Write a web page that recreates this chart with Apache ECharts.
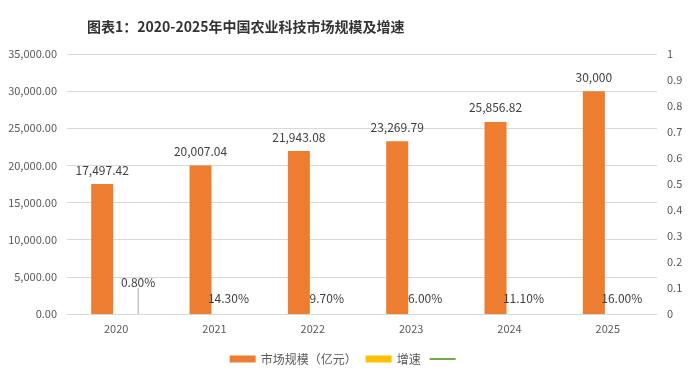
<!DOCTYPE html>
<html>
<head>
<meta charset="utf-8">
<script src="https://cdn.jsdelivr.net/npm/echarts@6/dist/echarts.min.js"></script>
<style>html,body{margin:0;padding:0;background:#fff;}#c{width:693px;height:380px;}</style>
</head>
<body>
<div id="c"></div>
<script>
var categories = ['2020', '2021', '2022', '2023', '2024', '2025'];
var marketSize = [17497.42, 20007.04, 21943.08, 23269.79, 25856.82, 30000];
var growthRate = [0.008, 0.143, 0.097, 0.060, 0.111, 0.160];
var leftTicks = [0, 35000, 5000];
var rightTicks = [0, 1, 0.1];

var FONT = '"Noto Sans CJK SC", "Noto Sans", sans-serif';

function fmtNum(v) {
  if (Number.isInteger(v)) return v.toLocaleString('en-US');
  return v.toLocaleString('en-US', {minimumFractionDigits: 2, maximumFractionDigits: 2});
}

var growthData = growthRate.map(function (v, i) {
  return i === 0
    ? {value: v, labelLine: {show: true, lineStyle: {color: '#A6A6A6', width: 1}}}
    : {value: v, labelLine: {show: false}};
});

var chart = echarts.init(document.getElementById('c'));
chart.setOption({
  backgroundColor: '#ffffff',
  animation: false,
  textStyle: {fontFamily: FONT},
  title: {
    text: '图表1：2020-2025年中国农业科技市场规模及增速',
    left: 82, top: 15,
    textStyle: {fontSize: 14, fontWeight: 'bold', color: '#333333', fontFamily: FONT}
  },
  legend: {
    left: 'center', top: 348,
    itemWidth: 26, itemHeight: 7, itemGap: 9,
    textStyle: {fontSize: 12, color: '#595959', fontFamily: FONT},
    data: [
      {name: '市场规模（亿元）', icon: 'rect'},
      {name: '增速', icon: 'rect'},
      {name: ' ', icon: 'path://M0,0 L26,0 L26,2 L0,2 Z'}
    ]
  },
  grid: {left: 67, right: 36, top: 54, bottom: 66, containLabel: false},
  xAxis: {
    type: 'category',
    data: categories,
    axisTick: {show: false},
    axisLine: {lineStyle: {color: '#D9D9D9'}},
    axisLabel: {color: '#595959', fontSize: 11, margin: 9}
  },
  yAxis: [
    {
      type: 'value', min: leftTicks[0], max: leftTicks[1], interval: leftTicks[2],
      axisLine: {show: false}, axisTick: {show: false},
      splitLine: {lineStyle: {color: '#D9D9D9'}},
      axisLabel: {color: '#595959', fontSize: 11, margin: 10,
        formatter: function (v) { return v.toLocaleString('en-US', {minimumFractionDigits: 2, maximumFractionDigits: 2}); }}
    },
    {
      type: 'value', min: rightTicks[0], max: rightTicks[1], interval: rightTicks[2],
      axisLine: {show: false}, axisTick: {show: false},
      splitLine: {show: false},
      axisLabel: {color: '#595959', fontSize: 11, margin: 10,
        formatter: function (v) { return String(Math.round(v * 10) / 10); }}
    }
  ],
  series: [
    {
      name: '市场规模（亿元）',
      type: 'bar',
      data: marketSize,
      barWidth: 22,
      barGap: '27%',
      itemStyle: {color: '#ED7D31'},
      label: {
        show: true, position: 'top', distance: 8,
        color: '#404040', fontSize: 12,
        formatter: function (p) { return fmtNum(p.value); }
      }
    },
    {
      name: '增速',
      type: 'bar',
      data: growthData,
      barWidth: 22,
      itemStyle: {color: '#FFC000'},
      label: {
        show: true, position: 'top', distance: 10,
        color: '#404040', fontSize: 12,
        formatter: function (p) { return (p.value * 100).toFixed(2) + '%'; }
      },
      labelLine: {show: false},
      labelLayout: function (params) {
        if (params.dataIndex === 0) return {dx: 8, dy: -16};
        return {};
      }
    },
    {
      name: ' ',
      type: 'line',
      yAxisIndex: 1,
      data: [],
      symbol: 'none',
      itemStyle: {color: '#70AD47'},
      lineStyle: {color: '#70AD47', width: 2}
    }
  ]
});
</script>
</body>
</html>
